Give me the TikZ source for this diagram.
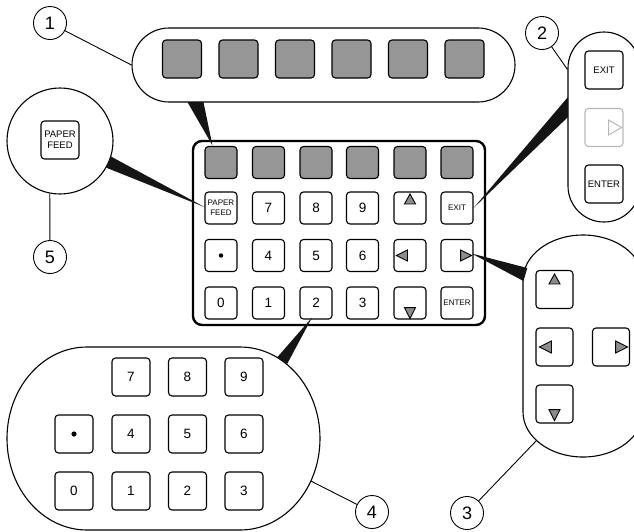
\documentclass[tikz,border=0pt]{standalone}
\usepackage{fontspec}
\setmainfont{Liberation Sans}
\usetikzlibrary{calc}
\definecolor{keygray}{RGB}{150,150,150}
\definecolor{trigray}{RGB}{140,140,140}
\definecolor{dimgray}{RGB}{185,185,185}
\begin{document}
\begin{tikzpicture}[x=1pt,y=-1pt,
 key/.style={draw, line width=1.1pt, rounded corners=3.5pt, minimum width=32pt, minimum height=32pt, inner sep=0pt, fill=white, font=\fontsize{13.5}{14}\selectfont},
 bigkey/.style={key, minimum width=38pt, minimum height=38pt},
 graykey/.style={key, fill=keygray},
 smalltxt/.style={font=\fontsize{8}{10}\selectfont, align=center},
 medtxt/.style={font=\fontsize{9.5}{11}\selectfont, align=center},
 pill/.style={draw, line width=1.1pt, fill=white, inner sep=0pt},
 area/.style={inner sep=0pt, draw=none},
 num/.style={circle, draw, line width=0.9pt, minimum size=33pt, inner sep=0pt, font=\fontsize{18}{18}\selectfont, fill=white},
 leader/.style={line width=0.9pt},
 wedge/.style={fill=black!92, draw=none},
 tri/.style={fill=trigray, draw=black, line width=0.9pt, line join=miter},
 ghosttri/.style={draw=dimgray, line width=1pt, line join=miter},
]
\useasboundingbox (0,0) rectangle (634,531);
\clip (0,0) rectangle (634,531);

% ---- callout pills ----
\node[pill, minimum width=383pt, minimum height=74pt, rounded corners=37pt] (p1) at (323.5,65) {};
\node[pill, minimum width=72pt, minimum height=190pt, rounded corners=36pt] (p2) at (604,127) {};
\node[area, minimum width=120pt, minimum height=222pt] (p3) at (583,346) {};
\draw[pill] ($(p3.center)+(-60,-66)$) -- ($(p3.center)+(-60,66)$)
   arc[start angle=180, end angle=0, x radius=60, y radius=45]
   -- ($(p3.center)+(60,-66)$)
   arc[start angle=0, end angle=-180, x radius=60, y radius=45] -- cycle;
\node[area, minimum width=313pt, minimum height=183pt] (p4) at (163.5,438.5) {};
\draw[pill] ($(p4.center)+(-76.5,-91.5)$) -- ($(p4.center)+(76.5,-91.5)$)
   arc[start angle=-90, end angle=90, x radius=80, y radius=91.5]
   -- ($(p4.center)+(-76.5,91.5)$)
   arc[start angle=90, end angle=270, x radius=80, y radius=91.5] -- cycle;
\node[pill, circle, minimum size=106pt] (c5) at (60,141) {};

% ---- main keypad ----
\node[draw, line width=2.4pt, rounded corners=9pt, minimum width=292pt, minimum height=184pt, fill=white] (pad) at (339,233) {};
\foreach \x [count=\i] in {221,268.5,316,362.5,410,457}
  \node[graykey] (g\i) at (\x,162.5) {};
\node[key, smalltxt] (kpf) at (221,208) {PAPER\\FEED};
\node[key] (k7) at (268.5,208) {7};
\node[key] (k8) at (316,208) {8};
\node[key] (k9) at (362.5,208) {9};
\node[key] (kup) at (410,208) {};
\node[key, smalltxt] (kexit) at (457,208) {EXIT};
\node[key] (kdot) at (221,255.5) {};
\node[key] (k4) at (268.5,255.5) {4};
\node[key] (k5) at (316,255.5) {5};
\node[key] (k6) at (362.5,255.5) {6};
\node[key] (kleft) at (410,255.5) {};
\node[key] (kright) at (457,255.5) {};
\node[key] (k0) at (221,303) {0};
\node[key] (k1) at (268.5,303) {1};
\node[key] (k2) at (316,303) {2};
\node[key] (k3) at (362.5,303) {3};
\node[key] (kdown) at (410,303) {};
\node[key, smalltxt] (kenter) at (457,303) {ENTER};
\fill (kdot.center) circle (2.2);
\filldraw[tri] ($(kup.north)+(0,2.5)$) -- ++(5.5,10) -- ++(-11,0) -- cycle;
\filldraw[tri] ($(kdown.south)+(0,-1)$) -- ++(5.5,-11) -- ++(-11,0) -- cycle;
\filldraw[tri] ($(kleft.west)+(3,0)$) -- ++(11,-5.5) -- ++(0,11) -- cycle;
\filldraw[tri] ($(kright.east)+(-2,0)$) -- ++(-11,-5.5) -- ++(0,11) -- cycle;

% ---- pill 1 keys ----
\foreach \x [count=\i] in {182,238.5,295,351.5,408,464.5}
  \node[graykey, minimum width=39pt, minimum height=38pt] (s\i) at (\x,59) {};

% ---- pill 2 keys ----
\node[bigkey, medtxt] (e1) at (604,70) {EXIT};
\node[bigkey, draw=dimgray] (e2) at (604,127.5) {};
\node[bigkey, medtxt] (e3) at (604,184) {ENTER};
\draw[ghosttri] ($(e2.east)+(-2,0)$) -- ++(-13,-7.5) -- ++(0,15) -- cycle;

% ---- pill 3 keys ----
\node[bigkey, minimum width=37pt] (aup) at (554.5,289.5) {};
\node[bigkey, minimum width=37pt] (aleft) at (554.5,347) {};
\node[bigkey, minimum width=37pt] (aright) at (611,347) {};
\node[bigkey, minimum width=37pt] (adown) at (554.5,404) {};
\filldraw[tri] ($(aup.north)+(0,4)$) -- ++(5.5,10) -- ++(-11,0) -- cycle;
\filldraw[tri] ($(adown.south)+(0,-3)$) -- ++(5.5,-11) -- ++(-11,0) -- cycle;
\filldraw[tri] ($(aleft.west)+(4,0)$) -- ++(12,-6) -- ++(0,12) -- cycle;
\filldraw[tri] ($(aright.east)+(-2.5,0)$) -- ++(-12,-6) -- ++(0,12) -- cycle;

% ---- pill 4 keys ----
\node[bigkey] (q7) at (131,377) {7};
\node[bigkey] (q8) at (187.5,377) {8};
\node[bigkey] (q9) at (244,377) {9};
\node[bigkey] (qdot) at (74,434) {};
\node[bigkey] (q4) at (131,434) {4};
\node[bigkey] (q5) at (187.5,434) {5};
\node[bigkey] (q6) at (244,434) {6};
\node[bigkey] (q0) at (74,491) {0};
\node[bigkey] (q1) at (131,491) {1};
\node[bigkey] (q2) at (187.5,491) {2};
\node[bigkey] (q3) at (244,491) {3};
\fill (qdot.center) circle (2.6);

% ---- circle 5 key ----
\node[bigkey, medtxt] (pf) at (60,140) {PAPER\\FEED};

% ---- wedges ----
\fill[wedge] ($(p1.south west)+(56,-0.5)$) -- ($(p1.south west)+(72,-0.5)$) -- ($(g1.north west)+(8,-0.5)$) -- cycle;
\fill[wedge] ($(p2.west)+(0.5,-30)$) -- ($(p2.west)+(0.5,-10)$) -- (kexit.east) -- cycle;
\fill[wedge] ($(p3.west)+(4.5,-78)$) -- ($(p3.west)+(0.7,-65)$) -- ($(kright.east)+(-2,-2)$) -- cycle;
\fill[wedge] ($(p4.north east)+(-43,10.5)$) -- ($(p4.north east)+(-33,17)$) -- ($(k2.south)+(-4,-2)$) -- cycle;
\fill[wedge] (c5.-17) -- (c5.-30) -- ($(kpf.west)+(0,-1)$) -- cycle;

% ---- number circles and leaders ----
\node[num] (n1) at (50,23) {1};
\node[num] (n2) at (542,33) {2};
\node[num] (n3) at (467,513) {3};
\node[num] (n4) at (372,512) {4};
\node[num] (n5) at (50,257) {5};
\draw[leader] (n1) -- (p1.west);
\draw[leader] (n2) -- ($(p2.north west)+(0,38)$);
\draw[leader] (n3) -- ($(p3.south west)+(14,-17)$);
\draw[leader] (n4) -- ($(p4.south east)+(-9,-49)$);
\draw[leader] (c5.-101) -- (n5);
\end{tikzpicture}
\end{document}
